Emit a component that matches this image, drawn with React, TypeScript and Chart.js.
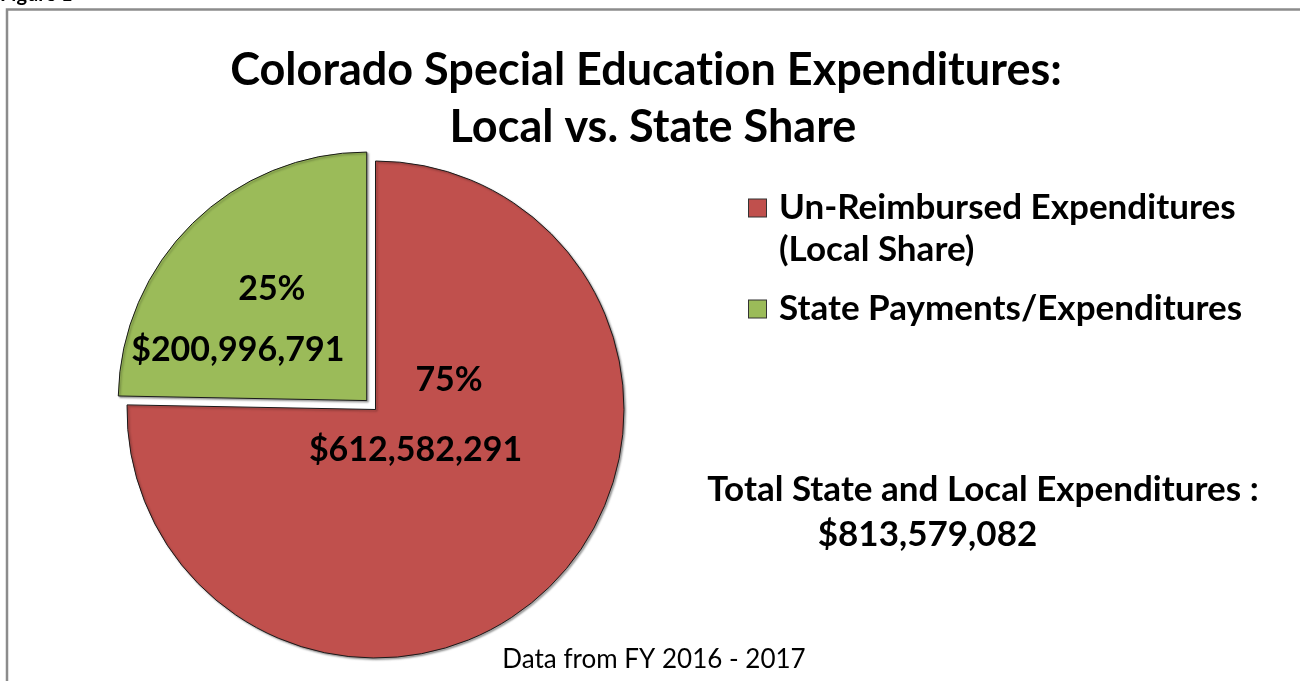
import React, { useEffect, useRef } from "react";
import { Chart, registerables } from "chart.js";

Chart.register(...registerables);

// ---- data ----
const categories = ["Un-Reimbursed Expenditures (Local Share)", "State Payments/Expenditures"];
const expenditures = [612582291, 200996791];
const sliceColors = ["#C0504D", "#9BBB59"];
const sliceOffsets = [0, 50];
const titleLines = ["Colorado Special Education Expenditures:", "Local vs. State Share"];
const totalCaption = "Total State and Local Expenditures :";
const sourceNote = "Data from FY 2016 - 2017";
const figureCaption = "Figure 1";

// label anchors, in units of the pie radius, relative to each slice's centre
const pctAnchors = [
  [0.296, -0.119],
  [-0.382, -0.447],
];
const valueAnchors = [
  [0.161, 0.163],
  [-0.519, -0.205],
];

const FONT = "Lato, 'Open Sans', 'DejaVu Sans', sans-serif";
const fmtMoney = (v: number) => "$" + v.toLocaleString("en-US");

function noLigatures(ctx: any) {
  try {
    ctx.textRendering = "optimizeSpeed";
  } catch (e) {}
  try {
    ctx.letterSpacing = "0.01px";
  } catch (e) {}
}

const framePlugin = {
  id: "frame",
  beforeDraw(chart: any) {
    const ctx = chart.ctx;
    ctx.save();
    ctx.fillStyle = "#ffffff";
    ctx.fillRect(0, 0, chart.width, chart.height);
    ctx.strokeStyle = "#8c8c8c";
    ctx.lineWidth = 2.5;
    ctx.strokeRect(7, 9.5, chart.width + 50, chart.height + 50);
    ctx.fillStyle = "#000";
    ctx.font = `bold 20px ${FONT}`;
    ctx.textAlign = "left";
    ctx.textBaseline = "alphabetic";
    ctx.fillText(figureCaption, 0, 1);
    ctx.restore();
  },
};

const shadowPlugin = {
  id: "sliceShadow",
  beforeDatasetsDraw(chart: any) {
    const ctx = chart.ctx;
    ctx.save();
    ctx.shadowColor = "rgba(0,0,0,0.35)";
    ctx.shadowBlur = 2;
    ctx.shadowOffsetX = 1.5;
    ctx.shadowOffsetY = 1.5;
  },
  afterDatasetsDraw(chart: any) {
    chart.ctx.restore();
  },
};

const labelPlugin = {
  id: "sliceLabels",
  afterDatasetsDraw(chart: any) {
    const ctx = chart.ctx;
    const meta = chart.getDatasetMeta(0);
    const data = chart.data.datasets[0].data as number[];
    const total = data.reduce((a, b) => a + b, 0);
    ctx.save();
    noLigatures(ctx);
    ctx.fillStyle = "#000";
    ctx.font = `bold 34px ${FONT}`;
    ctx.textAlign = "center";
    ctx.textBaseline = "middle";
    meta.data.forEach((arc: any, i: number) => {
      const p = arc.getProps(["x", "y", "startAngle", "endAngle", "outerRadius"], true);
      const off = (arc.options.offset || 0) / 4;
      const mid = (p.startAngle + p.endAngle) / 2;
      const cx = p.x + Math.cos(mid) * off;
      const cy = p.y + Math.sin(mid) * off;
      const r = p.outerRadius;
      const pct = Math.round((data[i] / total) * 100) + "%";
      ctx.fillText(pct, cx + pctAnchors[i][0] * r, cy + pctAnchors[i][1] * r);
      ctx.fillText(fmtMoney(data[i]), cx + valueAnchors[i][0] * r, cy + valueAnchors[i][1] * r);
    });
    ctx.restore();
  },
};

function wrap(ctx: CanvasRenderingContext2D, text: string, maxW: number): string[] {
  const words = text.split(" ");
  const lines: string[] = [];
  let cur = "";
  for (const w of words) {
    const t = cur ? cur + " " + w : w;
    if (ctx.measureText(t).width > maxW && cur) {
      lines.push(cur);
      cur = w;
    } else cur = t;
  }
  if (cur) lines.push(cur);
  return lines;
}

const textPlugin = {
  id: "texts",
  afterDraw(chart: any) {
    const ctx = chart.ctx;
    const data = chart.data.datasets[0].data as number[];
    const total = data.reduce((a, b) => a + b, 0);
    ctx.save();
    noLigatures(ctx);
    ctx.fillStyle = "#000";
    ctx.textBaseline = "middle";

    // title
    ctx.font = `bold 45px ${FONT}`;
    ctx.textAlign = "center";
    ctx.fillText(titleLines[0], 646, 70);
    ctx.fillText(titleLines[1], 653, 127);

    // legend
    ctx.font = `bold 35px ${FONT}`;
    ctx.textAlign = "left";
    const labels = chart.data.labels as string[];
    const colors = chart.data.datasets[0].backgroundColor as string[];
    let y = 208;
    labels.forEach((lab, i) => {
      const lines = wrap(ctx, lab, 480);
      ctx.fillStyle = colors[i];
      ctx.fillRect(748.5, y - 9, 18, 18);
      ctx.strokeStyle = "#333";
      ctx.lineWidth = 1;
      ctx.strokeRect(748.5, y - 9, 18, 18);
      ctx.fillStyle = "#000";
      lines.forEach((ln, j) => {
        ctx.fillText(ln, 779, y + j * 42);
      });
      y += (lines.length - 1) * 42 + 59;
    });

    // total
    ctx.textAlign = "center";
    ctx.font = `bold 35px ${FONT}`;
    ctx.fillText(totalCaption, 983, 490);
    ctx.fillText(fmtMoney(total), 927.5, 535);

    // source
    ctx.font = `26px ${FONT}`;
    ctx.fillText(sourceNote, 654, 660);
    ctx.restore();
  },
};

export default function App() {
  const ref = useRef<HTMLCanvasElement | null>(null);
  useEffect(() => {
    if (!ref.current) return;
    const chart = new Chart(ref.current, {
      type: "pie",
      data: {
        labels: categories,
        datasets: [
          {
            data: expenditures,
            backgroundColor: sliceColors,
            borderColor: "#1a1a1a",
            borderWidth: 1,
            offset: sliceOffsets,
          },
        ],
      },
      options: {
        responsive: false,
        animation: false,
        events: [],
        radius: 248.5,
        layout: { padding: { left: 0, top: 138, right: 549, bottom: 0 } },
        plugins: {
          legend: { display: false },
          title: { display: false },
          tooltip: { enabled: false },
        },
      } as any,
      plugins: [framePlugin, shadowPlugin, labelPlugin, textPlugin],
    });
    return () => chart.destroy();
  }, []);
  return (
    <div style={{ position: "fixed", left: 0, top: 0, width: 1300, height: 681, background: "#fff" }}>
      <canvas ref={ref} width={1300} height={681} />
    </div>
  );
}
